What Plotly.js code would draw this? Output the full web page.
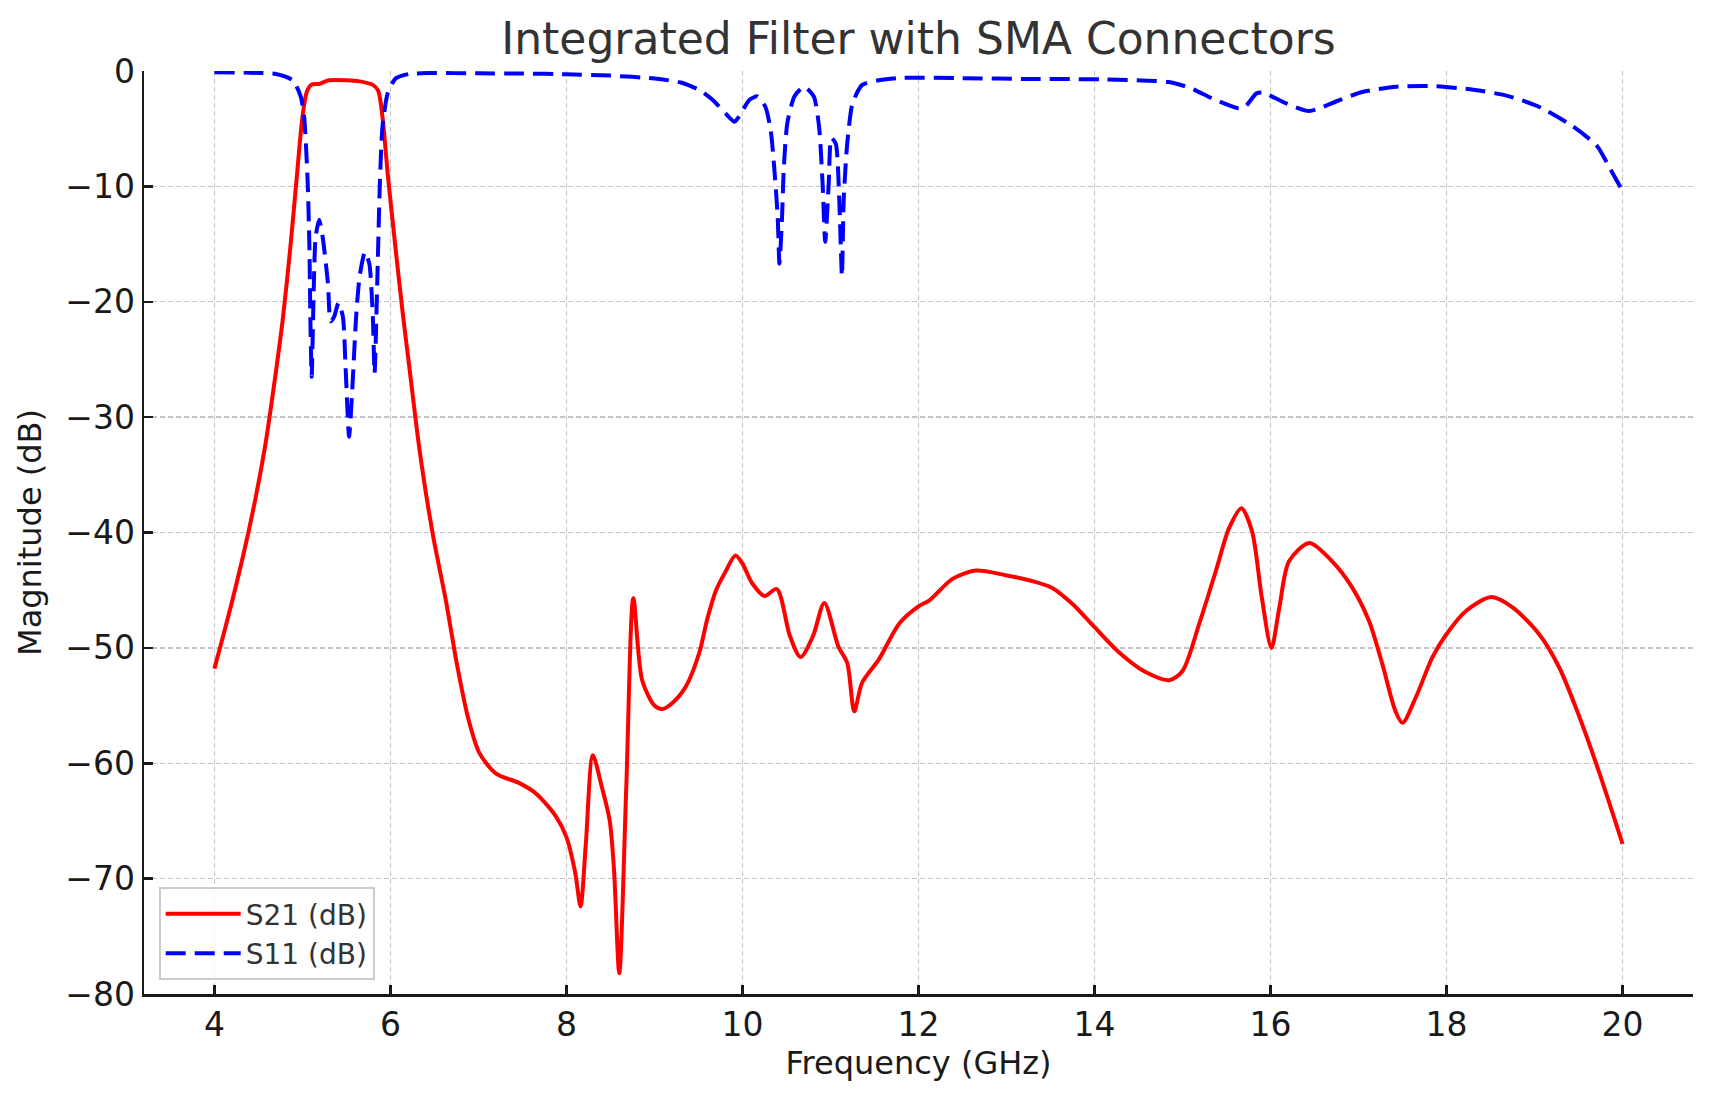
<!DOCTYPE html>
<html>
<head>
<meta charset="utf-8">
<script src="https://cdn.plot.ly/plotly-3.0.1.min.js"></script>
<style>
  html, body { margin: 0; padding: 0; background: #fff; }
  #chart { width: 1714px; height: 1101px; }
</style>
</head>
<body>
<div id="chart"></div>
<script>
// S21 (transmission)
var s21Freq = [4.0, 4.2, 4.4, 4.57, 4.7, 4.78, 4.86, 4.93, 5.0, 5.05, 5.1, 5.2, 5.3, 5.5, 5.65, 5.8, 5.86, 5.91, 5.97,
    6.06, 6.14, 6.22, 6.33, 6.48, 6.63, 6.76, 6.88, 7.01, 7.2, 7.46, 7.65, 7.88, 8.0, 8.1, 8.16, 8.22, 8.3, 8.4,
    8.49, 8.54, 8.6, 8.68, 8.76, 8.86, 9.0, 9.09, 9.2, 9.36, 9.51, 9.6, 9.7, 9.8, 9.92, 10.0, 10.11, 10.25, 10.39,
    10.54, 10.66, 10.8, 10.93, 11.09, 11.19, 11.27, 11.36, 11.55, 11.78, 12.0, 12.12, 12.39, 12.65, 12.99, 13.29,
    13.52, 13.75, 14.0, 14.28, 14.58, 14.85, 15.0, 15.19, 15.38, 15.53, 15.67, 15.79, 15.9, 16.01, 16.1, 16.21,
    16.44, 16.7, 16.93, 17.12, 17.27, 17.42, 17.5, 17.65, 17.84, 18.0, 18.22, 18.51, 18.75, 19.05, 19.28, 19.5,
    19.73, 20.0];
var s21Mag = [-51.8, -46.0, -39.5, -32.8, -26.0, -21.3, -15.5, -9.7, -4.0, -1.8, -1.2, -1.1, -0.8, -0.8, -0.9, -1.2, -1.7, -4.0, -9.0,
    -15.5, -21.0, -26.0, -32.8, -40.1, -45.9, -51.6, -56.0, -59.1, -60.9, -61.7, -62.6, -64.6, -66.4, -69.5, -72.4, -67.0, -59.3, -62.0,
    -64.9, -69.2, -78.2, -62.0, -45.7, -52.8, -55.0, -55.3, -54.8, -53.3, -50.4, -47.5, -45.0, -43.5, -42.0, -42.7, -44.4, -45.5, -44.9,
    -49.0, -50.8, -49.0, -46.1, -49.9, -51.3, -55.5, -53.0, -51.0, -47.9, -46.4, -45.9, -44.0, -43.3, -43.7, -44.2,
    -44.8, -46.2, -48.2, -50.4, -52.1, -52.8, -52.0, -47.9, -43.3, -39.6, -37.9, -39.9, -45.6, -50.0, -46.5, -42.5,
    -40.9, -42.5, -44.8, -47.7, -51.4, -55.5, -56.5, -54.3, -50.8, -48.8, -46.8, -45.6, -46.5, -48.8, -51.7, -55.8,
    -60.7, -67.0];

// S11 (reflection)
var s11Freq = [4.0, 4.4, 4.7, 4.89, 4.98, 5.02, 5.06, 5.08, 5.09, 5.105, 5.13, 5.15, 5.19, 5.23, 5.29, 5.32, 5.36, 5.41,
    5.46, 5.49, 5.53, 5.57, 5.61, 5.65, 5.71, 5.76, 5.8, 5.82, 5.85, 5.88, 5.91, 5.97, 6.06, 6.21, 6.44, 7.0, 7.5,
    8.0, 8.5, 9.0, 9.3, 9.51, 9.66, 9.81, 9.91, 9.96, 10.08, 10.17, 10.26, 10.32, 10.36, 10.4, 10.42, 10.45, 10.47,
    10.51, 10.59, 10.7, 10.81, 10.87, 10.91, 10.94, 10.98, 11.01, 11.06, 11.1, 11.13, 11.15, 11.19, 11.25, 11.36,
    11.55, 11.78, 12.5, 13.3, 14.11, 14.84, 15.08, 15.36, 15.64, 15.72, 15.84, 15.92, 16.16, 16.44, 16.76, 17.04,
    17.43, 17.83, 18.27, 18.67, 19.03, 19.43, 19.71, 19.86, 20.0];
var s11Mag = [-0.1, -0.15, -0.26, -0.8, -2.2, -4.0, -9.7, -15.5, -21.3, -26.5, -18.4, -14.4, -12.9, -14.4, -18.4, -21.7, -21.3, -20.1,
    -21.3, -25.6, -31.7, -27.1, -21.3, -17.8, -15.7, -16.7, -21.3, -26.2, -18.4, -9.7, -4.8, -1.9, -0.64, -0.26, -0.18, -0.2, -0.22,
    -0.28, -0.4, -0.65, -1.0, -1.65, -2.5, -3.7, -4.4, -3.96, -2.5, -2.2, -3.1, -5.1, -8.3, -12.6, -16.7, -12.6, -8.3,
    -4.5, -2.2, -1.36, -2.2, -4.8, -9.7, -14.8, -9.7, -5.8, -6.3, -11.2, -17.8, -11.2, -6.3, -2.8, -1.2,
    -0.8, -0.6, -0.62, -0.7, -0.72, -0.95, -1.45, -2.46, -3.24, -3.03, -1.94, -1.88, -2.75, -3.47, -2.6, -1.82,
    -1.36, -1.3, -1.59, -2.11, -3.03, -4.77, -6.5, -8.5, -10.4];

var xTicks = [4, 6, 8, 10, 12, 14, 16, 18, 20];
var yTicks = [0, -10, -20, -30, -40, -50, -60, -70, -80];

var font = 'DejaVu Sans, sans-serif';

var traceS21 = {
    x: s21Freq,
    y: s21Mag,
    type: 'scatter',
    mode: 'lines',
    name: 'S21 (dB)',
    line: { color: '#ff0000', width: 4, shape: 'spline', smoothing: 0.8 }
};

var traceS11 = {
    x: s11Freq,
    y: s11Mag,
    type: 'scatter',
    mode: 'lines',
    name: 'S11 (dB)',
    line: { color: '#0000ff', width: 4, dash: '20px,9px', shape: 'spline', smoothing: 0.6 }
};

var axisCommon = {
    showline: true,
    linecolor: '#1a1a1a',
    linewidth: 2.5,
    ticks: 'inside',
    ticklen: 9,
    tickwidth: 2.5,
    tickcolor: '#1a1a1a',
    showgrid: true,
    gridcolor: '#c4c4c4',
    gridwidth: 1.4,
    griddash: '5px,3px',
    zeroline: false,
    mirror: false,
    tickfont: { family: font, size: 33, color: '#1a1a1a' }
};

var layout = {
    width: 1714,
    height: 1101,
    margin: { l: 144, r: 21, t: 71, b: 107 },
    paper_bgcolor: '#fff',
    plot_bgcolor: '#fff',
    title: {
        text: 'Integrated Filter with SMA Connectors',
        font: { family: font, size: 44, color: '#333' },
        x: 0.5359,
        xanchor: 'center',
        y: 0.965,
        yanchor: 'middle'
    },
    xaxis: Object.assign({}, axisCommon, {
        range: [3.2, 20.8],
        tickvals: xTicks,
        title: { text: 'Frequency (GHz)', font: { family: font, size: 32, color: '#1a1a1a' }, standoff: 8 }
    }),
    yaxis: Object.assign({}, axisCommon, {
        range: [-80, 0],
        tickvals: yTicks,
        title: { text: 'Magnitude (dB)', font: { family: font, size: 32, color: '#1a1a1a' }, standoff: 14 }
    }),
    showlegend: true,
    legend: {
        x: 0.0095,
        y: 0.015,
        xanchor: 'left',
        yanchor: 'bottom',
        bgcolor: 'rgba(255,255,255,0.8)',
        bordercolor: '#cccccc',
        borderwidth: 2,
        font: { family: font, size: 28, color: '#333' },
        itemwidth: 75
    }
};

Plotly.newPlot('chart', [traceS21, traceS11], layout, { staticPlot: true });
</script>
</body>
</html>
